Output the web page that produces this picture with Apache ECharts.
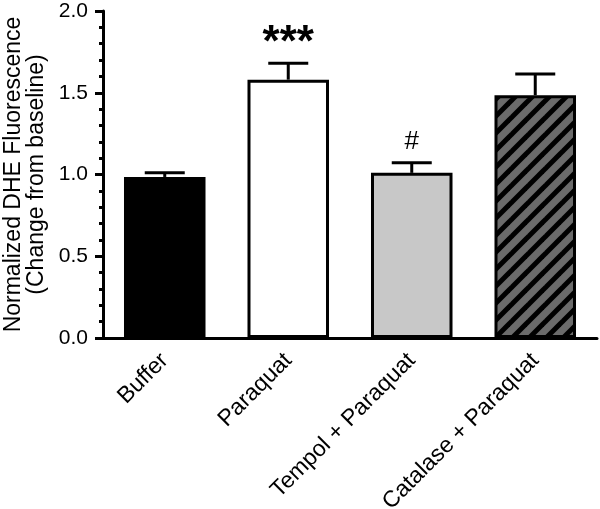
<!DOCTYPE html>
<html>
<head>
<meta charset="utf-8">
<script src="https://cdn.jsdelivr.net/npm/echarts@6/dist/echarts.min.js"></script>
<style>
html,body{margin:0;padding:0;background:#fff;}
#chart{width:600px;height:509px;}
</style>
</head>
<body>
<div id="chart"></div>
<script>
// ---- data ----
const categories = ['Buffer', 'Paraquat', 'Tempol + Paraquat', 'Catalase + Paraquat'];
const means = [0.985, 1.58, 1.01, 1.485];
const sems = [0.025, 0.10, 0.062, 0.13];
const annotations = ['', '***', '#', ''];
const yTickValues = [0, 0.5, 1.0, 1.5, 2.0];
const yTitle = 'Normalized DHE Fluorescence\n(Change from baseline)';

// ---- styles ----
function stripePattern() {
  const s = 17;
  const c = document.createElement('canvas');
  c.width = s; c.height = s;
  const g = c.getContext('2d');
  g.fillStyle = '#6b6b6b';
  g.fillRect(0, 0, s, s);
  g.strokeStyle = '#000';
  g.lineWidth = 5;
  g.lineCap = 'butt';
  for (const k of [-s, 0, s]) {
    g.beginPath();
    g.moveTo(k - 2, s + 2);
    g.lineTo(k + s + 2, -2);
    g.stroke();
  }
  return c;
}
const fills = ['#000000', '#ffffff', '#c8c8c8', { image: stripePattern(), repeat: 'repeat' }];

const chart = echarts.init(document.getElementById('chart'), null, { renderer: 'canvas' });
const font = 'Liberation Sans, Arial, Helvetica, sans-serif';

chart.setOption({
  animation: false,
  backgroundColor: '#fff',
  grid: { left: 103, right: 3, top: 11, bottom: 171, containLabel: false, outerBoundsMode: 'none' },
  xAxis: {
    type: 'category',
    data: categories,
    axisLine: { lineStyle: { color: '#000', width: 3 } },
    axisTick: { alignWithLabel: true, length: 9, lineStyle: { color: '#000', width: 3 } },
    axisLabel: { rotate: 45, fontSize: 23, color: '#000', fontFamily: font, margin: 19, interval: 0 }
  },
  yAxis: {
    type: 'value',
    min: yTickValues[0],
    max: yTickValues[yTickValues.length - 1],
    interval: 0.5,
    name: yTitle,
    nameLocation: 'middle',
    nameGap: 53,
    nameTextStyle: { fontSize: 23, color: '#000', fontFamily: font, lineHeight: 23 },
    axisLine: { show: true, lineStyle: { color: '#000', width: 3 } },
    axisTick: { show: true, length: 8, lineStyle: { color: '#000', width: 3 } },
    minorTick: { show: true, splitNumber: 5, length: 4, lineStyle: { color: '#000', width: 3 } },
    splitLine: { show: false },
    axisLabel: { fontSize: 21, color: '#000', fontFamily: font, margin: 15,
      formatter: v => v.toFixed(1) }
  },
  series: [
    {
      type: 'bar',
      barWidth: '66%',
      data: means.map((v, i) => ({
        value: v,
        itemStyle: { color: fills[i], borderColor: '#000', borderWidth: 3 }
      })),
      z: 2
    },
    {
      type: 'custom',
      z: 3,
      clip: false,
      data: means.map((v, i) => [i, v, sems[i]]),
      renderItem: function (params, api) {
        const i = api.value(0), m = api.value(1), e = api.value(2);
        const base = api.coord([i, m]);
        const top = api.coord([i, m + e]);
        const half = 20;
        const children = [
          { type: 'line', shape: { x1: base[0], y1: base[1], x2: top[0], y2: top[1] },
            style: { stroke: '#000', lineWidth: 3 } },
          { type: 'line', shape: { x1: top[0] - half, y1: top[1], x2: top[0] + half, y2: top[1] },
            style: { stroke: '#000', lineWidth: 3 } }
        ];
        const a = annotations[params.dataIndex];
        if (a) {
          const big = a.indexOf('*') >= 0;
          children.push({
            type: 'text',
            style: {
              text: a, x: top[0], y: top[1] - (big ? -3 : 8),
              align: 'center', verticalAlign: 'bottom',
              font: (big ? 'bold 44px ' : '26px ') + font, fill: '#000'
            }
          });
        }
        return { type: 'group', children: children };
      }
    }
  ]
});
</script>
</body>
</html>
